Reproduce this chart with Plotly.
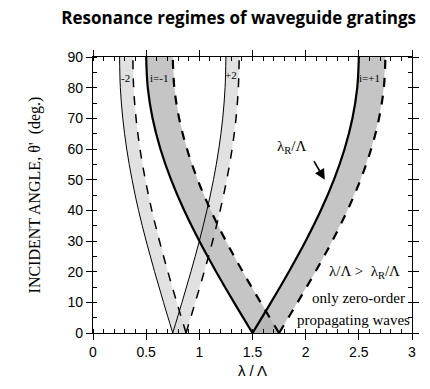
import plotly.graph_objects as go

# incident angle samples (deg)
theta = [0, 10, 20, 30, 40, 50, 60, 70, 80, 90]

# band boundaries (lambda/Lambda)
p1_solid = [1.5, 1.674, 1.842, 2.0, 2.143, 2.266, 2.366, 2.44, 2.485, 2.5]
p1_dash = [1.75, 1.924, 2.092, 2.25, 2.393, 2.516, 2.616, 2.69, 2.735, 2.75]
m1_solid = [1.5, 1.326, 1.158, 1.0, 0.857, 0.734, 0.634, 0.56, 0.515, 0.5]
m1_dash = [1.75, 1.576, 1.408, 1.25, 1.107, 0.984, 0.884, 0.81, 0.765, 0.75]
m2_solid = [0.75, 0.663, 0.579, 0.5, 0.428, 0.367, 0.317, 0.28, 0.257, 0.25]
m2_dash = [0.875, 0.788, 0.704, 0.625, 0.553, 0.492, 0.442, 0.405, 0.382, 0.375]
p2_solid = [0.75, 0.837, 0.921, 1.0, 1.071, 1.133, 1.183, 1.22, 1.242, 1.25]
p2_dash = [0.875, 0.962, 1.046, 1.125, 1.196, 1.258, 1.308, 1.345, 1.367, 1.375]

band_labels = ["-2", "i=-1", "+2", "i=+1"]
band_label_x = [0.31, 0.62, 1.3, 2.6]
band_label_y = [83, 83, 84, 83]

x_ticks = [0, 0.5, 1, 1.5, 2, 2.5, 3]
x_ticktext = ["0", "0.5", "1", "1.5", "2", "2.5", "3"]
y_ticks = [0, 10, 20, 30, 40, 50, 60, 70, 80, 90]

fig = go.Figure()

bands = [
    (m2_solid, m2_dash, "rgba(218,218,218,0.8)", 1.0, 1.5),
    (p2_solid, p2_dash, "rgba(218,218,218,0.8)", 1.0, 1.5),
    (m1_solid, m1_dash, "rgba(178,178,178,0.75)", 2.2, 2.2),
    (p1_solid, p1_dash, "rgba(178,178,178,0.75)", 2.2, 2.2),
]

for solid, dash, fc, ws, wd in bands:
    fig.add_trace(go.Scatter(
        x=solid + dash[::-1], y=theta + theta[::-1],
        fill="toself", fillcolor=fc, line=dict(width=0),
        mode="lines", hoverinfo="skip", showlegend=False))

for solid, dash, fc, ws, wd in bands:
    fig.add_trace(go.Scatter(x=solid, y=theta, mode="lines",
                             line=dict(color="black", width=ws, shape="spline"),
                             showlegend=False))
    fig.add_trace(go.Scatter(x=dash, y=theta, mode="lines",
                             line=dict(color="black", width=wd, dash="dash", shape="spline"),
                             showlegend=False))

for t, xx, yy in zip(band_labels, band_label_x, band_label_y):
    fig.add_annotation(x=xx, y=yy, text=t, showarrow=False,
                       font=dict(family="Liberation Serif", size=11, color="black"))

fig.add_annotation(x=2.18, y=50, ax=2.07, ay=56.5, xref="x", yref="y", axref="x", ayref="y",
                   text="", showarrow=True, arrowhead=2, arrowsize=1.3, arrowwidth=1.6,
                   arrowcolor="black")
fig.add_annotation(x=1.87, y=60.5, text="λ<sub>R</sub>/Λ", showarrow=False,
                   font=dict(family="Liberation Serif", size=15, color="black"))
fig.add_annotation(x=2.55, y=20, text="λ/Λ >  λ<sub>R</sub>/Λ", showarrow=False,
                   font=dict(family="Liberation Serif", size=15, color="black"))
fig.add_annotation(x=2.5, y=11.3, text="only zero-order", showarrow=False,
                   font=dict(family="Liberation Serif", size=15, color="black"))
fig.add_annotation(x=2.45, y=4.3, text="propagating waves", showarrow=False,
                   font=dict(family="Liberation Serif", size=15, color="black"))

fig.update_layout(
    width=430, height=389,
    margin=dict(l=93, r=11, t=57, b=56),
    paper_bgcolor="white", plot_bgcolor="white",
    title=dict(text="<b>Resonance regimes of waveguide gratings</b>",
               x=0.555, xanchor="center", y=0.953, yanchor="middle",
               font=dict(family="Open Sans", size=17, color="black")),
)
fig.update_xaxes(
    range=[0, 3], tickvals=x_ticks, ticktext=x_ticktext,
    ticks="outside", ticklen=6, tickcolor="black", tickwidth=1,
    minor=dict(dtick=0.1, ticks="inside", ticklen=4, tickcolor="black"),
    showline=True, linecolor="black", linewidth=1.2, mirror="allticks",
    showgrid=False, zeroline=False,
    tickfont=dict(family="Liberation Sans", size=14, color="black"),
    title=dict(text="λ / Λ", font=dict(family="Liberation Sans", size=15, color="black"),
               standoff=6),
)
fig.update_yaxes(
    range=[0, 90], tickvals=y_ticks,
    ticks="outside", ticklen=6, tickcolor="black", tickwidth=1,
    minor=dict(dtick=5, ticks="inside", ticklen=4, tickcolor="black"),
    showline=True, linecolor="black", linewidth=1.2, mirror="allticks",
    showgrid=False, zeroline=False,
    tickfont=dict(family="Liberation Sans", size=14, color="black"),
    title=dict(text="INCIDENT ANGLE, θ'  (deg.)",
               font=dict(family="Liberation Serif", size=16, color="black"),
               standoff=22),
)

fig.write_html("out.html")
